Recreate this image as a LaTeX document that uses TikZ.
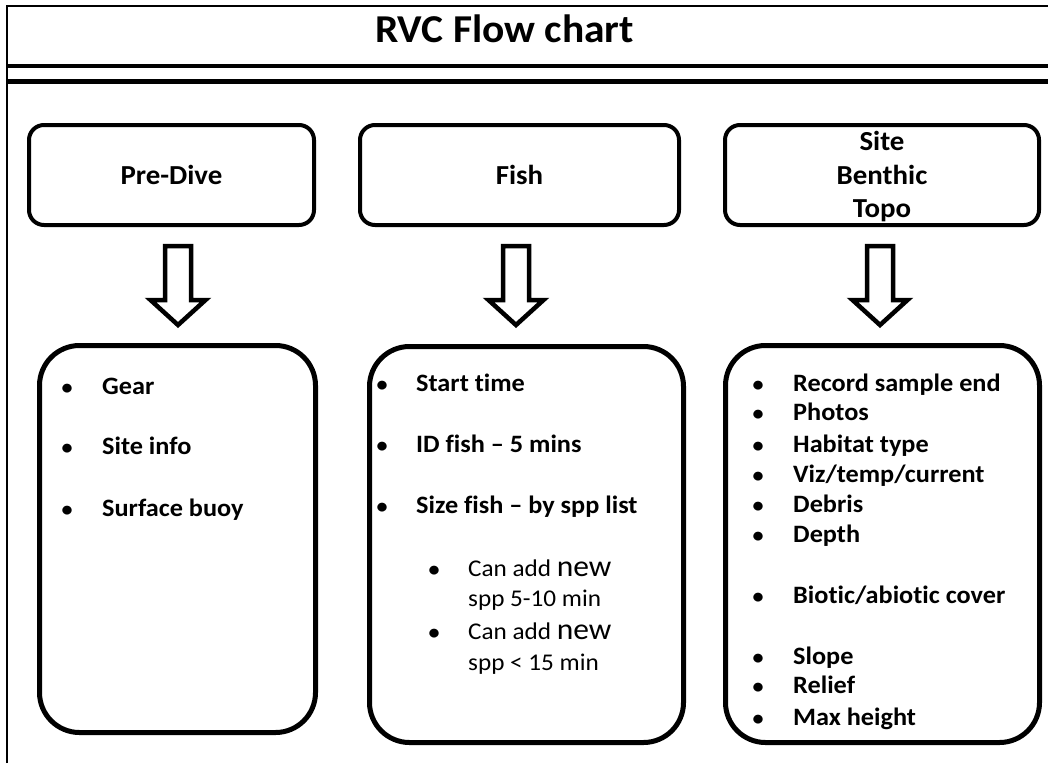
\documentclass[tikz,border=0pt]{standalone}
\usepackage{fontspec}
\setmainfont{Carlito}[FakeStretch=1.05, Ligatures={TeX,NoCommon}]
\newcommand\titlefnt{\fontsize{39.5}{44}\selectfont\bfseries}
\newcommand\toplbl{\fontsize{27.5}{33.5}\selectfont\bfseries}
\newcommand\itemfnt{\fontsize{25}{28}\selectfont\bfseries}
\newcommand\subfnt{\fontsize{24}{28}\selectfont}
\newcommand\bulfnt{\fontsize{21}{28}\selectfont\bfseries}
\newcommand\bigw[1]{{\fontsize{30}{30}\selectfont #1}}
\tikzset{
  framerule/.style={line width=2.5pt},
  heavyrule/.style={line width=4.8pt},
  topbox/.style={draw, line width=4pt, rounded corners=15pt, font=\toplbl, align=center, inner sep=0pt},
  botbox/.style={draw, line width=5pt, rounded corners=40pt, inner sep=0pt},
  blockarrow/.style={draw, line width=4.5pt, line join=miter, fill=white},
  itemtxt/.style={anchor=base west, font=\itemfnt, inner sep=0pt},
  subtxt/.style={anchor=base west, font=\subfnt, inner sep=0pt},
  bul/.style={anchor=base, font=\bulfnt, inner sep=0pt},
  downarrow/.pic={\draw[blockarrow] (-13,246) -- (-13,300) -- (-27.5,300) -- (0,325) -- (27.5,300) -- (13,300) -- (13,246) -- cycle;}
}
\begin{document}
\begin{tikzpicture}[x=1pt,y=-1pt]
\useasboundingbox (0,0) rectangle (1048,763);
\fill[white] (0,0) rectangle (1048,763);
% frame
\coordinate (fbl) at (7,763);
\coordinate (ftl) at (7,6);
\coordinate (ftr) at (1048,6);
\draw[framerule] (fbl) -- (ftl) -- (ftr);
\coordinate (r1l) at (7,66);
\coordinate (r1r) at (1048,66);
\coordinate (r2l) at (7,81.7);
\coordinate (r2r) at (1048,81.7);
\draw[heavyrule] (r1l) -- (r1r);
\draw[heavyrule] (r2l) -- (r2r);
\node[anchor=base, font=\titlefnt, inner sep=0pt] (title) at (504.5,42) {RVC Flow chart};
% top boxes
\node[topbox, minimum width=285pt, minimum height=100pt] (pre) at (171.5,175) {Pre-Dive};
\node[topbox, minimum width=319pt, minimum height=100pt] (fish) at (519.5,175) {Fish};
\node[topbox, minimum width=314pt, minimum height=100pt] (site) at (882,175) {};
\node[anchor=base, font=\toplbl, inner sep=0pt] (siteA) at (882,150) {Site};
\node[anchor=base, font=\toplbl, inner sep=0pt] (siteB) at (882,184) {Benthic};
\node[anchor=base, font=\toplbl, inner sep=0pt] (siteC) at (882,217) {Topo};
% arrows
\pic (arr1) at (178,0) {downarrow};
\pic (arr2) at (516,0) {downarrow};
\pic (arr3) at (880,0) {downarrow};
% bottom boxes
\node[botbox, minimum width=276pt, minimum height=387pt] (preL) at (177.5,539) {};
\node[botbox, minimum width=314pt, minimum height=396pt] (fishL) at (526.5,544.5) {};
\node[botbox, minimum width=314pt, minimum height=397pt] (siteL) at (882.5,544) {};
% box 1 items
\node[bul] (b11) at (67,394) {\textbullet};
\node[itemtxt] (t11) at (102,394) {Gear};
\node[bul] (b12) at (67,454) {\textbullet};
\node[itemtxt] (t12) at (102,454) {Site info};
\node[bul] (b13) at (67,516) {\textbullet};
\node[itemtxt] (t13) at (102,516) {Surface buoy};
% box 2 items
\node[bul] (b21) at (382,391) {\textbullet};
\node[itemtxt] (t21) at (416,391) {Start time};
\node[bul] (b22) at (382,452) {\textbullet};
\node[itemtxt] (t22) at (416,452) {ID fish -- 5 mins};
\node[bul] (b23) at (382,513) {\textbullet};
\node[itemtxt] (t23) at (416,513) {Size fish -- by spp list};
\node[bul] (b24) at (434,576) {\textbullet};
\node[subtxt] (t24) at (468,576) {Can add \bigw{new}};
\node[subtxt] (t25) at (468,606) {spp 5-10 min};
\node[bul] (b26) at (434,639) {\textbullet};
\node[subtxt] (t26) at (468,639) {Can add \bigw{new}};
\node[subtxt] (t27) at (468,670) {spp {\textless} 15 min};
% box 3 items
\foreach \i/\yy/\txt in {1/391/{Record sample end}, 2/420/{Photos}, 3/452/{Habitat type}, 4/482/{Viz/temp/current}, 5/512/{Debris}, 6/542/{Depth}, 7/603/{Biotic/abiotic cover}, 8/664/{Slope}, 9/693/{Relief}, 10/725/{Max height}}{
  \node[bul] (b3\i) at (758,\yy) {\textbullet};
  \node[itemtxt] (t3\i) at (793,\yy) {\txt};
}
\end{tikzpicture}
\end{document}
